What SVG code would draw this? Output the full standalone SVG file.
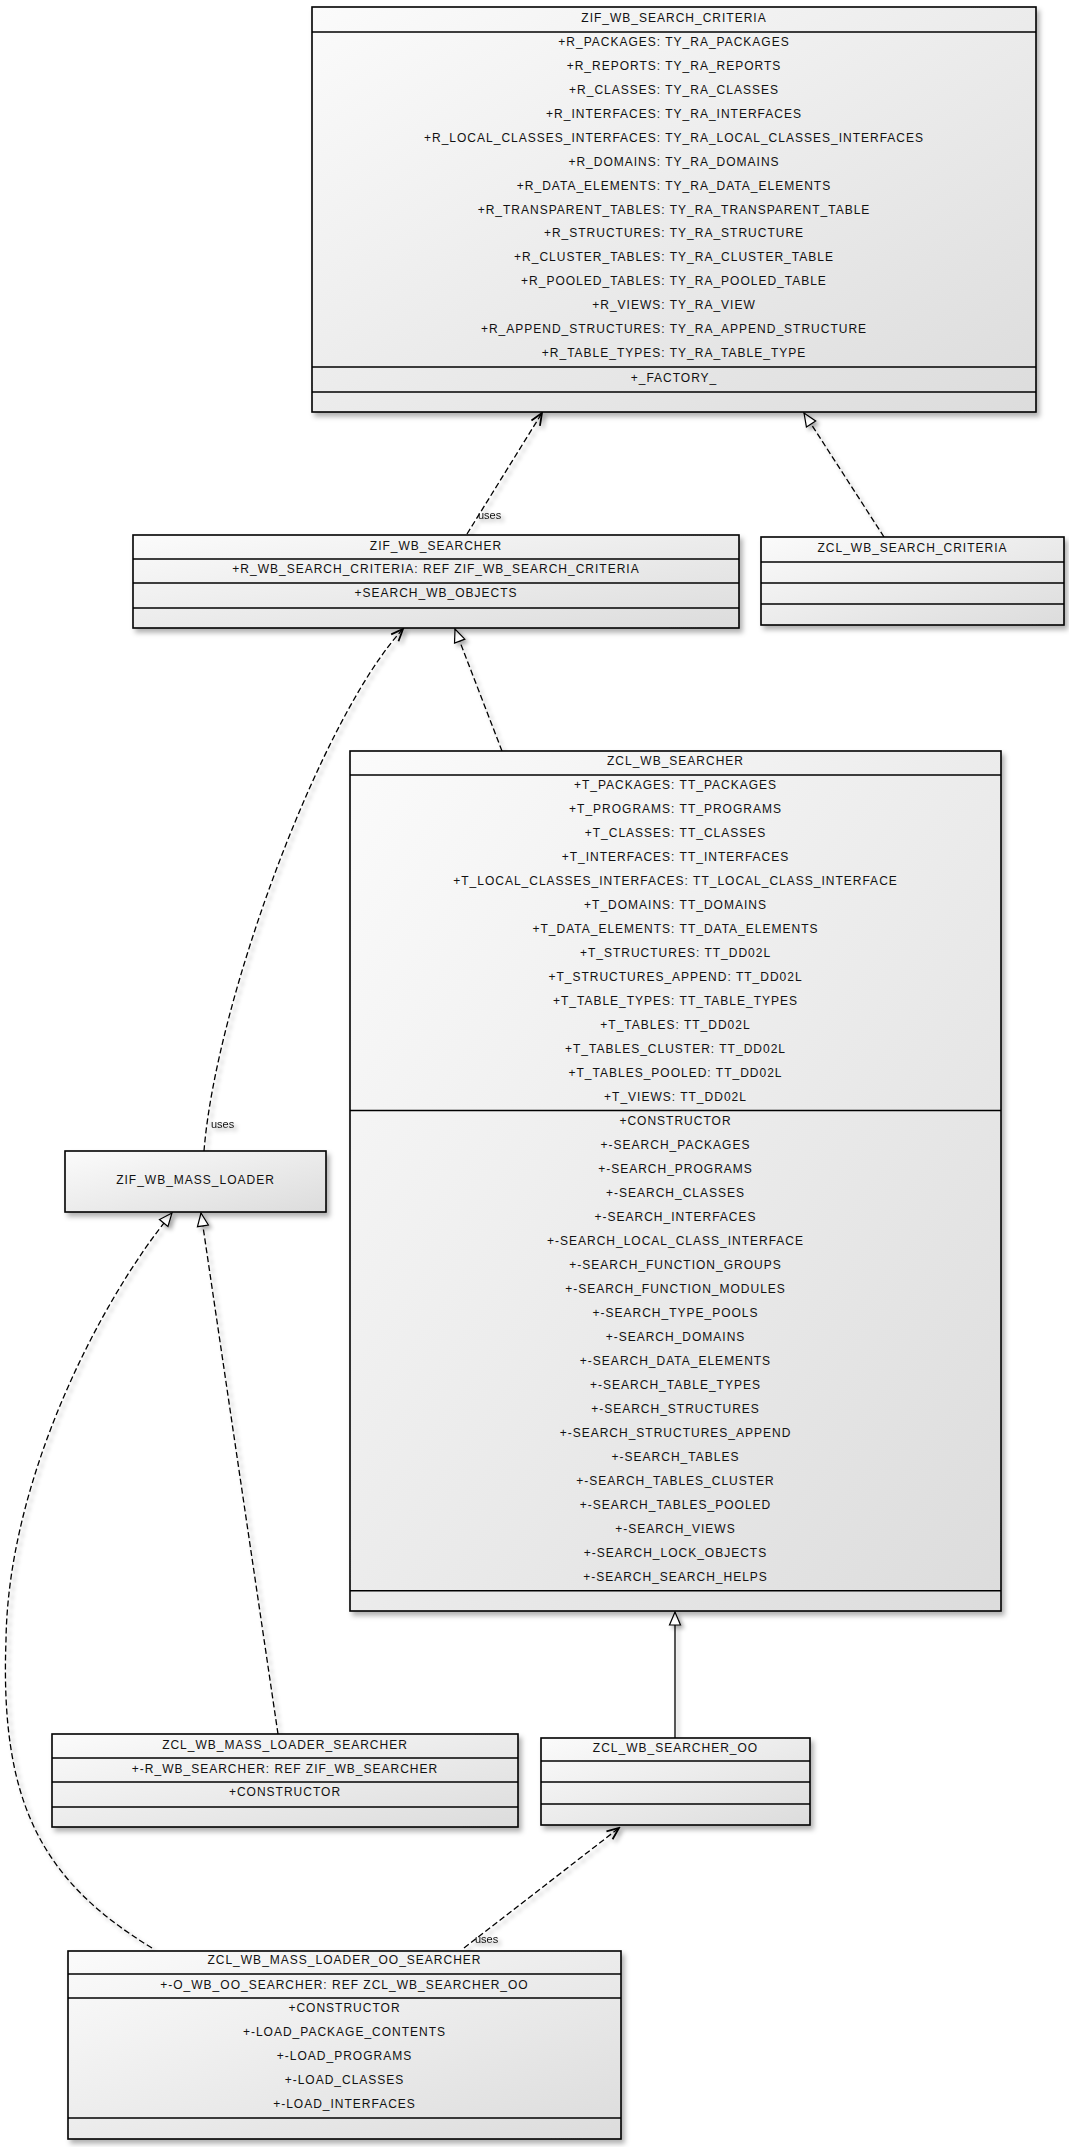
<svg xmlns="http://www.w3.org/2000/svg" width="1069" height="2147" viewBox="0 0 1069 2147">
<defs>
<linearGradient id="g" x1="0" y1="0" x2="1" y2="1">
<stop offset="0" stop-color="#fbfbfb"/>
<stop offset="1" stop-color="#dcdcdc"/>
</linearGradient>
<filter id="sh" x="-10%" y="-10%" width="130%" height="130%">
<feDropShadow dx="3" dy="4" stdDeviation="2.5" flood-color="#000" flood-opacity="0.3"/>
</filter>
<filter id="lsh" x="-20%" y="-20%" width="140%" height="140%">
<feDropShadow dx="3" dy="3" stdDeviation="2" flood-color="#000" flood-opacity="0.35"/>
</filter>
<marker id="tri" markerUnits="userSpaceOnUse" viewBox="-15 -8 17 16" refX="0" refY="0" markerWidth="17" markerHeight="16" orient="auto">
<path d="M0,0 L-13,-5.5 L-13,5.5 Z" fill="#fff" stroke="#000" stroke-width="1.2"/>
</marker>
<marker id="vee" markerUnits="userSpaceOnUse" viewBox="-15 -8 17 16" refX="0" refY="0" markerWidth="17" markerHeight="16" orient="auto">
<path d="M-12,-5 L0,0 L-12,5" fill="none" stroke="#000" stroke-width="1.8"/>
</marker>
</defs>
<style>
.box{fill:url(#g);stroke:#000;stroke-width:1.6;filter:url(#sh)}
.dv{stroke:#000;stroke-width:1.5}
.t{font-family:"Liberation Sans",Arial,sans-serif;font-size:12px;letter-spacing:1px;text-anchor:middle;fill:#111}
.lbl{font-family:"Liberation Sans",Arial,sans-serif;font-size:11px;fill:#111}
.dash{fill:none;stroke:#000;stroke-width:1.3;stroke-dasharray:6 3}
.solid{fill:none;stroke:#000;stroke-width:1.3}
</style>

<g id="connectors" filter="url(#lsh)">
<path class="dash" d="M467,534 L542,413" marker-end="url(#vee)"/>
<path class="dash" d="M884,537 L804,413" marker-end="url(#tri)"/>
<path class="dash" d="M502,751 L455,629" marker-end="url(#tri)"/>
<path class="dash" d="M204,1151 C216,1000 322,716 403,629" marker-end="url(#vee)"/>
<path class="dash" d="M278,1734 L201,1213" marker-end="url(#tri)"/>
<path class="dash" d="M152,1948 C40,1880 0,1800 6,1640 C8,1480 100,1300 172,1213" marker-end="url(#tri)"/>
<path class="solid" d="M675,1738 L675,1612" marker-end="url(#tri)"/>
<path class="dash" d="M464,1948 L619,1828" marker-end="url(#vee)"/>
<text class="lbl" x="478" y="519">uses</text>
<text class="lbl" x="211" y="1128">uses</text>
<text class="lbl" x="475" y="1943">uses</text>
</g>

<g id="ZIF_WB_SEARCH_CRITERIA">
<rect class="box" x="312" y="7" width="724" height="405"/>
<line class="dv" x1="312" y1="32" x2="1036" y2="32"/>
<line class="dv" x1="312" y1="367" x2="1036" y2="367"/>
<line class="dv" x1="312" y1="392" x2="1036" y2="392"/>
<text class="t" x="674" y="22">ZIF_WB_SEARCH_CRITERIA</text>
<text class="t" x="674" y="46">+R_PACKAGES: TY_RA_PACKAGES</text>
<text class="t" x="674" y="69.9">+R_REPORTS: TY_RA_REPORTS</text>
<text class="t" x="674" y="93.9">+R_CLASSES: TY_RA_CLASSES</text>
<text class="t" x="674" y="117.8">+R_INTERFACES: TY_RA_INTERFACES</text>
<text class="t" x="674" y="141.7">+R_LOCAL_CLASSES_INTERFACES: TY_RA_LOCAL_CLASSES_INTERFACES</text>
<text class="t" x="674" y="165.6">+R_DOMAINS: TY_RA_DOMAINS</text>
<text class="t" x="674" y="189.6">+R_DATA_ELEMENTS: TY_RA_DATA_ELEMENTS</text>
<text class="t" x="674" y="213.5">+R_TRANSPARENT_TABLES: TY_RA_TRANSPARENT_TABLE</text>
<text class="t" x="674" y="237.4">+R_STRUCTURES: TY_RA_STRUCTURE</text>
<text class="t" x="674" y="261.4">+R_CLUSTER_TABLES: TY_RA_CLUSTER_TABLE</text>
<text class="t" x="674" y="285.3">+R_POOLED_TABLES: TY_RA_POOLED_TABLE</text>
<text class="t" x="674" y="309.2">+R_VIEWS: TY_RA_VIEW</text>
<text class="t" x="674" y="333.2">+R_APPEND_STRUCTURES: TY_RA_APPEND_STRUCTURE</text>
<text class="t" x="674" y="357.1">+R_TABLE_TYPES: TY_RA_TABLE_TYPE</text>
<text class="t" x="674" y="381.5">+_FACTORY_</text>
</g>

<g id="ZIF_WB_SEARCHER">
<rect class="box" x="133" y="535" width="606" height="93"/>
<line class="dv" x1="133" y1="559" x2="739" y2="559"/>
<line class="dv" x1="133" y1="583" x2="739" y2="583"/>
<line class="dv" x1="133" y1="608" x2="739" y2="608"/>
<text class="t" x="436" y="550">ZIF_WB_SEARCHER</text>
<text class="t" x="436" y="573">+R_WB_SEARCH_CRITERIA: REF ZIF_WB_SEARCH_CRITERIA</text>
<text class="t" x="436" y="597">+SEARCH_WB_OBJECTS</text>
</g>

<g id="ZCL_WB_SEARCH_CRITERIA">
<rect class="box" x="761" y="537" width="303" height="88"/>
<line class="dv" x1="761" y1="562" x2="1064" y2="562"/>
<line class="dv" x1="761" y1="583" x2="1064" y2="583"/>
<line class="dv" x1="761" y1="604" x2="1064" y2="604"/>
<text class="t" x="912.5" y="551.7">ZCL_WB_SEARCH_CRITERIA</text>
</g>

<g id="ZCL_WB_SEARCHER">
<rect class="box" x="350" y="751" width="651" height="860"/>
<line class="dv" x1="350" y1="775" x2="1001" y2="775"/>
<line class="dv" x1="350" y1="1110.5" x2="1001" y2="1110.5"/>
<line class="dv" x1="350" y1="1590.7" x2="1001" y2="1590.7"/>
<text class="t" x="675.5" y="765">ZCL_WB_SEARCHER</text>
<text class="t" x="675.5" y="789">+T_PACKAGES: TT_PACKAGES</text>
<text class="t" x="675.5" y="813">+T_PROGRAMS: TT_PROGRAMS</text>
<text class="t" x="675.5" y="837">+T_CLASSES: TT_CLASSES</text>
<text class="t" x="675.5" y="861">+T_INTERFACES: TT_INTERFACES</text>
<text class="t" x="675.5" y="885">+T_LOCAL_CLASSES_INTERFACES: TT_LOCAL_CLASS_INTERFACE</text>
<text class="t" x="675.5" y="909">+T_DOMAINS: TT_DOMAINS</text>
<text class="t" x="675.5" y="933">+T_DATA_ELEMENTS: TT_DATA_ELEMENTS</text>
<text class="t" x="675.5" y="957">+T_STRUCTURES: TT_DD02L</text>
<text class="t" x="675.5" y="981">+T_STRUCTURES_APPEND: TT_DD02L</text>
<text class="t" x="675.5" y="1005">+T_TABLE_TYPES: TT_TABLE_TYPES</text>
<text class="t" x="675.5" y="1029">+T_TABLES: TT_DD02L</text>
<text class="t" x="675.5" y="1053">+T_TABLES_CLUSTER: TT_DD02L</text>
<text class="t" x="675.5" y="1077">+T_TABLES_POOLED: TT_DD02L</text>
<text class="t" x="675.5" y="1101">+T_VIEWS: TT_DD02L</text>
<text class="t" x="675.5" y="1125">+CONSTRUCTOR</text>
<text class="t" x="675.5" y="1149">+-SEARCH_PACKAGES</text>
<text class="t" x="675.5" y="1173">+-SEARCH_PROGRAMS</text>
<text class="t" x="675.5" y="1197">+-SEARCH_CLASSES</text>
<text class="t" x="675.5" y="1221">+-SEARCH_INTERFACES</text>
<text class="t" x="675.5" y="1245">+-SEARCH_LOCAL_CLASS_INTERFACE</text>
<text class="t" x="675.5" y="1269">+-SEARCH_FUNCTION_GROUPS</text>
<text class="t" x="675.5" y="1293">+-SEARCH_FUNCTION_MODULES</text>
<text class="t" x="675.5" y="1317">+-SEARCH_TYPE_POOLS</text>
<text class="t" x="675.5" y="1341">+-SEARCH_DOMAINS</text>
<text class="t" x="675.5" y="1365">+-SEARCH_DATA_ELEMENTS</text>
<text class="t" x="675.5" y="1389">+-SEARCH_TABLE_TYPES</text>
<text class="t" x="675.5" y="1413">+-SEARCH_STRUCTURES</text>
<text class="t" x="675.5" y="1437">+-SEARCH_STRUCTURES_APPEND</text>
<text class="t" x="675.5" y="1461">+-SEARCH_TABLES</text>
<text class="t" x="675.5" y="1485">+-SEARCH_TABLES_CLUSTER</text>
<text class="t" x="675.5" y="1509">+-SEARCH_TABLES_POOLED</text>
<text class="t" x="675.5" y="1533">+-SEARCH_VIEWS</text>
<text class="t" x="675.5" y="1557">+-SEARCH_LOCK_OBJECTS</text>
<text class="t" x="675.5" y="1581">+-SEARCH_SEARCH_HELPS</text>
</g>

<g id="ZIF_WB_MASS_LOADER">
<rect class="box" x="65" y="1151" width="261" height="61"/>
<text class="t" x="195.5" y="1184">ZIF_WB_MASS_LOADER</text>
</g>

<g id="ZCL_WB_MASS_LOADER_SEARCHER">
<rect class="box" x="52" y="1734" width="466" height="93"/>
<line class="dv" x1="52" y1="1758" x2="518" y2="1758"/>
<line class="dv" x1="52" y1="1782" x2="518" y2="1782"/>
<line class="dv" x1="52" y1="1807" x2="518" y2="1807"/>
<text class="t" x="285" y="1749">ZCL_WB_MASS_LOADER_SEARCHER</text>
<text class="t" x="285" y="1773">+-R_WB_SEARCHER: REF ZIF_WB_SEARCHER</text>
<text class="t" x="285" y="1796">+CONSTRUCTOR</text>
</g>

<g id="ZCL_WB_SEARCHER_OO">
<rect class="box" x="541" y="1738" width="269" height="87"/>
<line class="dv" x1="541" y1="1761" x2="810" y2="1761"/>
<line class="dv" x1="541" y1="1782" x2="810" y2="1782"/>
<line class="dv" x1="541" y1="1804" x2="810" y2="1804"/>
<text class="t" x="675.5" y="1751.5">ZCL_WB_SEARCHER_OO</text>
</g>

<g id="ZCL_WB_MASS_LOADER_OO_SEARCHER">
<rect class="box" x="68" y="1951" width="553" height="188"/>
<line class="dv" x1="68" y1="1974" x2="621" y2="1974"/>
<line class="dv" x1="68" y1="1998" x2="621" y2="1998"/>
<line class="dv" x1="68" y1="2118" x2="621" y2="2118"/>
<text class="t" x="344.5" y="1964">ZCL_WB_MASS_LOADER_OO_SEARCHER</text>
<text class="t" x="344.5" y="1988.5">+-O_WB_OO_SEARCHER: REF ZCL_WB_SEARCHER_OO</text>
<text class="t" x="344.5" y="2012">+CONSTRUCTOR</text>
<text class="t" x="344.5" y="2036">+-LOAD_PACKAGE_CONTENTS</text>
<text class="t" x="344.5" y="2060">+-LOAD_PROGRAMS</text>
<text class="t" x="344.5" y="2084">+-LOAD_CLASSES</text>
<text class="t" x="344.5" y="2108">+-LOAD_INTERFACES</text>
</g>
</svg>
